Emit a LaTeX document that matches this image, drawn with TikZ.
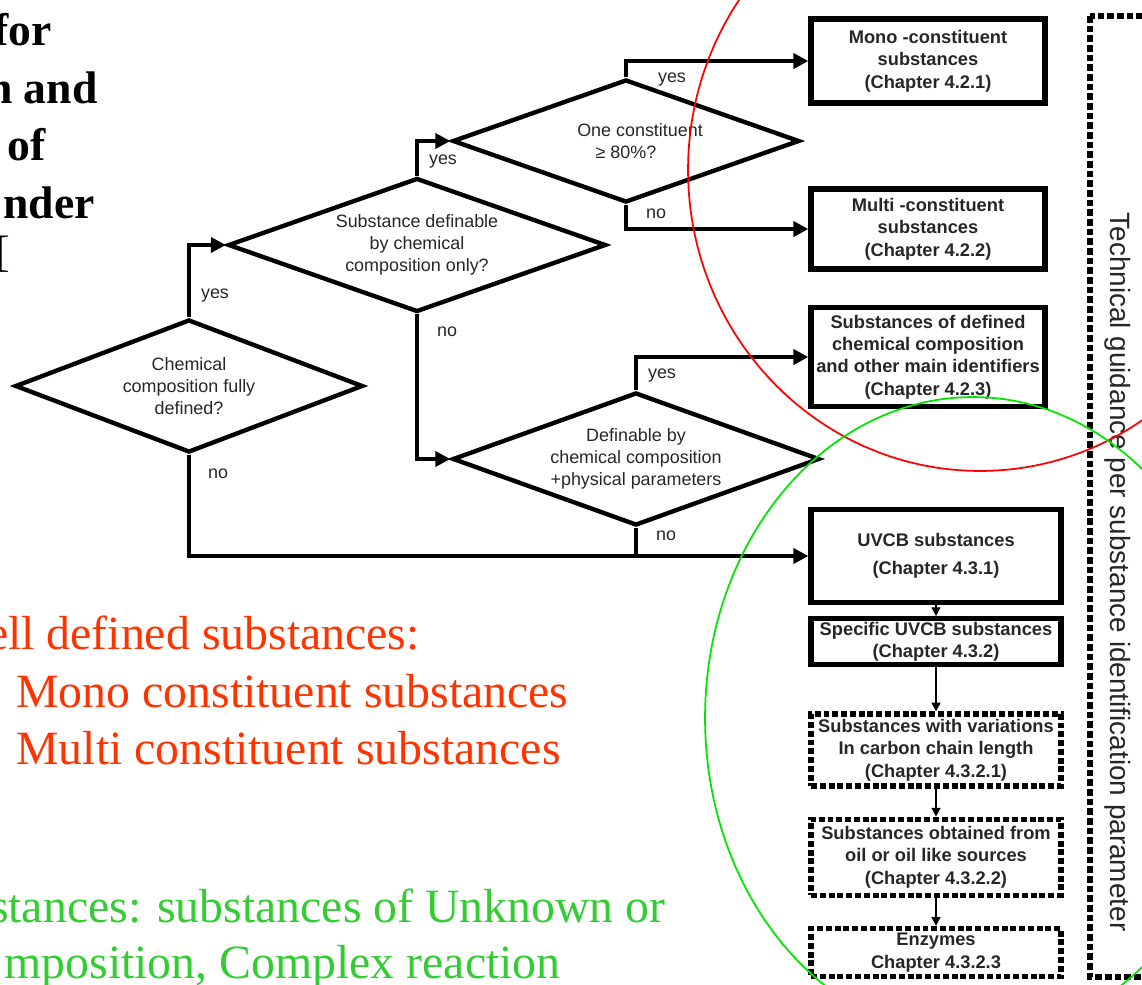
\documentclass[tikz,border=0pt]{standalone}
\usepackage{fontspec}
\setmainfont{Liberation Serif}
\newfontfamily\chartfont{Liberation Sans}
\usetikzlibrary{positioning,arrows.meta,shapes.geometric}
\definecolor{slidered}{HTML}{FF3300}
\definecolor{slidegreen}{HTML}{33CC33}
\definecolor{ringgreen}{HTML}{00E600}
\tikzset{
  chart/.style={x=0.02cm,y=-0.02cm,>={Triangle[length=8.5pt,width=8.5pt]}},
  flowtext/.style={font=\chartfont\fontsize{10.2}{12.7}\selectfont,text=black!85},
  question/.style={flowtext,diamond,draw,line width=2.5pt,inner sep=0pt,align=center},
  result/.style={draw,line width=3pt,inner sep=0pt,align=center,text=black!85,
    font=\chartfont\bfseries\fontsize{10.4}{12.7}\selectfont},
  subresult/.style={result,dash pattern=on 3.4pt off 1.6pt},
  answer/.style={flowtext,inner sep=0pt},
  link/.style={->,line width=2.8pt},
  sublink/.style={-{Triangle[length=5pt,width=5pt]},line width=1.1pt},
  slidetitle/.style={font=\bfseries\fontsize{26}{33}\selectfont,inner sep=0pt},
  slidetext/.style={font=\fontsize{27.2}{33}\selectfont,inner sep=0pt},
}

\begin{document}
\begin{tikzpicture}[chart]
  \useasboundingbox (0,0) rectangle (1142,984);
  \clip (0,0) rectangle (1142,984);

  % slide text, cut at the left edge
  \node[slidetitle,anchor=base east] (title1) at (52,45) {for};
  \node[slidetitle,anchor=base east] (title2) at (98,103) {n and};
  \node[slidetitle,anchor=base east] (title3) at (46,160) {of};
  \node[slidetitle,anchor=base east] (title4) at (95,218) {nder};
  \node[slidetext,font=\fontsize{25}{33}\selectfont,anchor=base east] (title5) at (10,266) {[};

  \node[slidetext,text=slidered,anchor=base east] (welldef) at (420,649) {ell defined substances:};
  \node[slidetext,text=slidered,anchor=base west] (monoitem) at (16,707) {Mono constituent substances};
  \node[slidetext,text=slidered,anchor=base west] (multiitem) at (16,764) {Multi constituent substances};
  \node[slidetext,text=slidegreen,anchor=base east] (uvcbline1) at (666,922) {stances: substances of Unknown or};
  \node[slidetext,text=slidegreen,anchor=base east] (uvcbline2) at (561,978) {mposition, Complex reaction};

  % decisions
  \node[question,shape aspect=2.6,minimum width=6.96cm,minimum height=2.66cm] (d1) at (189,386)
    {Chemical\\composition fully\\defined?};
  \node[question,shape aspect=2.8,minimum width=7.56cm,minimum height=2.68cm] (d2) at (417,245)
    {Substance definable\\by chemical\\composition only?};
  \node[question,shape aspect=2.8,minimum width=6.94cm,minimum height=2.46cm] (d3) at (626,141)
    {\hspace*{16pt}One constituent\\≥ 80\%?};
  \node[question,shape aspect=2.75,minimum width=7.34cm,minimum height=2.66cm] (d4) at (636,459)
    {Definable by\\chemical composition\\+physical parameters};

  % results
  \node[result,minimum width=4.68cm,minimum height=1.68cm] (mono) at (928,61)
    {Mono -constituent\\substances\\(Chapter 4.2.1)};
  \node[result,minimum width=4.68cm,minimum height=1.6cm] (multi) at (928,229)
    {Multi -constituent\\substances\\(Chapter 4.2.2)};
  \node[result,minimum width=4.68cm,minimum height=1.98cm] (defined) at (928,357)
    {Substances of defined\\chemical composition\\and other main identifiers\\(Chapter 4.2.3)};
  \node[result,minimum width=5cm,minimum height=1.86cm] (uvcb) at (936,556)
    {UVCB substances\\[3pt](Chapter 4.3.1)};
  \node[result,minimum width=5cm,minimum height=0.92cm,below=0.22cm of uvcb] (specific)
    {Specific UVCB substances\\(Chapter 4.3.2)};
  \node[subresult,minimum width=5cm,minimum height=1.44cm,below=0.88cm of specific] (carbon)
    {Substances with variations\\In carbon chain length\\(Chapter 4.3.2.1)};
  \node[subresult,minimum width=5cm,minimum height=1.52cm,below=0.56cm of carbon] (oil)
    {Substances obtained from\\oil or oil like sources\\(Chapter 4.3.2.2)};
  \node[subresult,minimum width=5cm,minimum height=0.96cm,below=0.56cm of oil] (enzymes)
    {Enzymes\\Chapter 4.3.2.3};

  \draw[line width=3pt,dash pattern=on 3.8pt off 1.7pt] (1090,16) rectangle (1146,977);
  \node[flowtext,font=\chartfont\fontsize{15.9}{18}\selectfont,rotate=-90] (sidetitle) at (1118,572)
    {Technical guidance per substance identification parameter};

  % connectors
  \draw[link] (d1.north) |- (d2.west);
  \draw[link] (d1.south) |- (uvcb.west);
  \draw[link] (d2.north) |- (d3.west);
  \draw[link] (d2.south) |- (d4.west);
  \draw[link] (d3.north) |- (mono.west);
  \draw[link] (d3.south) |- (multi.west);
  \draw[link] (d4.north) |- (defined.west);
  \draw[line width=2.8pt] (d4.south) -- (d4.south |- uvcb.west);
  \draw[sublink] (uvcb.south) -- (specific.north);
  \draw[sublink] (specific.south) -- (carbon.north);
  \draw[sublink] (carbon.south) -- (oil.north);
  \draw[sublink] (oil.south) -- (enzymes.north);

  \node[answer] (yes1) at (215,296) {yes};
  \node[answer] (no1) at (218,474) {no};
  \node[answer] (yes2) at (443,162) {yes};
  \node[answer] (no2) at (447,332) {no};
  \node[answer] (yes3) at (672,80) {yes};
  \node[answer] (no3) at (656,214) {no};
  \node[answer] (yes4) at (662,376) {yes};
  \node[answer] (no4) at (666,536) {no};

  % highlight rings
  \draw[red,line width=1pt] (980,170) ellipse [x radius=5.84cm,y radius=6.02cm];
  \draw[ringgreen,line width=1pt] (973,718) ellipse [x radius=5.36cm,y radius=6.42cm];
\end{tikzpicture}
\end{document}
